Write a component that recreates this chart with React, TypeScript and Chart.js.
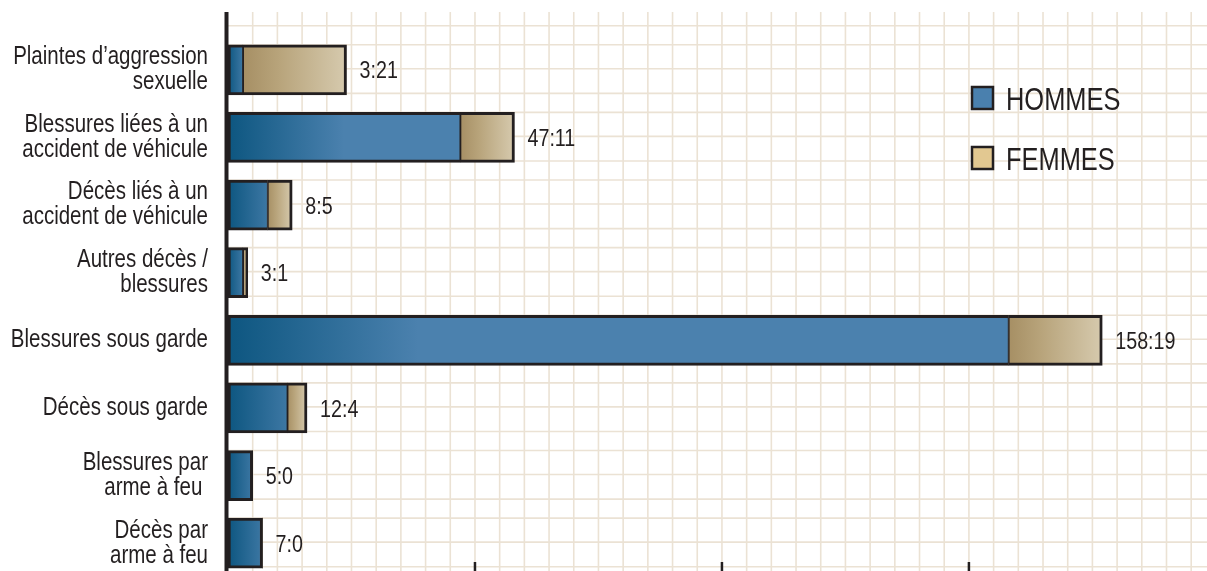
import { useEffect, useRef } from "react";
import { Chart, registerables } from "chart.js";

Chart.register(...registerables);

// Categories (multi-line labels), counts per sex, axis settings
const categories: (string | string[])[] = [
  ["Plaintes d’aggression", "sexuelle"],
  ["Blessures liées à un", "accident de véhicule"],
  ["Décès liés à un", "accident de véhicule"],
  ["Autres décès /", "blessures"],
  "Blessures sous garde",
  "Décès sous garde",
  ["Blessures par", "arme à feu "],
  ["Décès par", "arme à feu"],
];
const hommes = [3, 47, 8, 3, 158, 12, 5, 7];
const femmes = [21, 11, 5, 1, 19, 4, 0, 0];
const seriesNames = ["HOMMES", "FEMMES"];
const majorTicks = [50, 100, 150];
const gridStep = 5;
const xMax = 198.2;

const INK = "#231f20";
const GRID = "#ebe2d4";
const SANS = '"Liberation Sans", Arial, Helvetica, sans-serif';
const NARROW = 0.82; // horizontal squeeze giving a narrow grotesque look
const MEN_DARK = "#0d5680";
const MEN_LIGHT = "#4b81ae";
const MEN_SWATCH = "#4a80ae";
const WOMEN_SWATCH = "#e2c891";

// Text drawn with a horizontal squeeze
function narrowText(
  ctx: CanvasRenderingContext2D,
  text: string,
  x: number,
  y: number,
  size: number,
  align: CanvasTextAlign,
  baseline: CanvasTextBaseline
) {
  ctx.save();
  ctx.translate(x, y);
  ctx.scale(NARROW, 1);
  ctx.font = `${size}px ${SANS}`;
  ctx.textAlign = align;
  ctx.textBaseline = baseline;
  ctx.fillStyle = INK;
  ctx.fillText(text, 0, 0);
  ctx.restore();
}

function menFill(ctx: any) {
  const chart = ctx.chart;
  if (!chart.chartArea) return MEN_LIGHT;
  const x = chart.scales.x;
  const x0 = x.getPixelForValue(0);
  const x1 = x.getPixelForValue(hommes[ctx.dataIndex]);
  const w = Math.max(x1 - x0, 1);
  const span = w < 60 ? w * 1.3 : Math.min(w * 0.5, 190);
  const g = chart.ctx.createLinearGradient(x0, 0, x0 + span, 0);
  g.addColorStop(0, MEN_DARK);
  g.addColorStop(1, MEN_LIGHT);
  return g;
}

function womenFill(ctx: any) {
  const chart = ctx.chart;
  if (!chart.chartArea) return "#c0ad86";
  const x = chart.scales.x;
  const i = ctx.dataIndex;
  const x0 = x.getPixelForValue(hommes[i]);
  const x1 = x.getPixelForValue(hommes[i] + femmes[i]);
  const g = chart.ctx.createLinearGradient(x0, 0, Math.max(x1, x0 + 1), 0);
  g.addColorStop(0, "#a68f64");
  g.addColorStop(0.35, "#b8a47b");
  g.addColorStop(1, "#d6caae");
  return g;
}

// Paper grid behind the bars; axis line, tick marks, labels and legend on top
const decorPlugin = {
  id: "decor",
  beforeDatasetsDraw(chart: any) {
    const { ctx, chartArea, scales } = chart;
    const x = scales.x;
    const y = scales.y;
    const top = 12;
    const bottom = chart.height;
    const right = chart.width;
    ctx.save();
    ctx.strokeStyle = GRID;
    ctx.lineWidth = 1.6;
    for (let v = gridStep; ; v += gridStep) {
      const px = x.getPixelForValue(v);
      if (px > right) break;
      ctx.beginPath();
      ctx.moveTo(px, top);
      ctx.lineTo(px, bottom);
      ctx.stroke();
    }
    const band = y.getPixelForValue(1) - y.getPixelForValue(0);
    const offsets = [-0.37, -0.015, 0.348];
    for (let i = -1; i < categories.length + 1; i++) {
      const c = y.getPixelForValue(0) + i * band;
      for (const f of offsets) {
        const py = c + f * band;
        if (py < top || py > bottom) continue;
        ctx.beginPath();
        ctx.moveTo(chartArea.left, py);
        ctx.lineTo(right, py);
        ctx.stroke();
      }
    }
    ctx.restore();
  },
  afterDatasetsDraw(chart: any) {
    const { ctx, chartArea, scales } = chart;
    const x = scales.x;
    const y = scales.y;
    ctx.save();
    // axis line
    ctx.fillStyle = INK;
    ctx.fillRect(chartArea.left - 3.5, 12, 4, chart.height - 12);
    // major tick marks at the bottom
    ctx.strokeStyle = INK;
    ctx.lineWidth = 2.5;
    for (const v of majorTicks) {
      const px = x.getPixelForValue(v);
      ctx.beginPath();
      ctx.moveTo(px, 562);
      ctx.lineTo(px, chart.height);
      ctx.stroke();
    }
    ctx.restore();

    // category labels, right-aligned left of the axis
    const labelRight = chartArea.left - 20;
    const lineH = 25;
    categories.forEach((lab, i) => {
      const lines = Array.isArray(lab) ? lab : [lab];
      const c = y.getPixelForValue(i);
      const first = c - ((lines.length - 1) * lineH) / 2;
      lines.forEach((t, k) => {
        narrowText(ctx, t, labelRight, first + k * lineH, 25, "right", "middle");
      });
    });

    // value labels "hommes:femmes"
    for (let i = 0; i < categories.length; i++) {
      const px = x.getPixelForValue(hommes[i] + femmes[i]);
      const py = y.getPixelForValue(i);
      narrowText(ctx, `${hommes[i]}:${femmes[i]}`, px + 13, py + 2, 24, "left", "middle");
    }

    // legend
    const swatches = [MEN_SWATCH, WOMEN_SWATCH];
    for (let k = 0; k < seriesNames.length; k++) {
      const by = 87 + k * 60;
      ctx.save();
      ctx.fillStyle = swatches[k];
      ctx.fillRect(972, by, 21, 22);
      ctx.strokeStyle = INK;
      ctx.lineWidth = 2.5;
      ctx.strokeRect(972, by, 21, 22);
      ctx.restore();
      narrowText(ctx, seriesNames[k], 1006, by + 23, 31, "left", "alphabetic");
    }
  },
};

export default function App() {
  const canvasRef = useRef<HTMLCanvasElement | null>(null);

  useEffect(() => {
    if (!canvasRef.current) return;
    const chart = new Chart(canvasRef.current, {
      type: "bar",
      data: {
        labels: categories as any,
        datasets: [
          {
            label: seriesNames[0],
            data: hommes,
            backgroundColor: menFill as any,
            borderColor: INK,
            borderWidth: ((ctx: any) => ({
              top: 3,
              bottom: 3,
              left: 3,
              right: femmes[ctx.dataIndex] > 0 ? 1 : 3,
            })) as any,
            borderSkipped: false,
            barThickness: 50,
            stack: "s",
          },
          {
            label: seriesNames[1],
            data: femmes,
            backgroundColor: womenFill as any,
            borderColor: INK,
            borderWidth: ((ctx: any) =>
              femmes[ctx.dataIndex] > 0 ? { top: 3, bottom: 3, left: 1.5, right: 3 } : 0) as any,
            borderSkipped: false,
            barThickness: 50,
            stack: "s",
          },
        ],
      },
      options: {
        indexAxis: "y",
        animation: false,
        responsive: true,
        maintainAspectRatio: false,
        layout: { padding: { top: 36, bottom: 13, left: 0, right: 0 } },
        plugins: {
          legend: { display: false },
          tooltip: { enabled: false },
        },
        scales: {
          x: {
            display: false,
            stacked: true,
            min: 0,
            max: xMax,
          },
          y: {
            stacked: true,
            offset: true,
            grid: { display: false, drawTicks: false },
            border: { display: false },
            ticks: { display: false, padding: 0 },
            afterFit: (s: any) => {
              s.width = 228;
            },
          },
        },
      },
      plugins: [decorPlugin],
    });
    return () => chart.destroy();
  }, []);

  return (
    <div
      style={{
        position: "fixed",
        left: 0,
        top: 0,
        width: 1207,
        height: 571,
        overflow: "hidden",
        background: "#fff",
      }}
    >
      <div style={{ position: "relative", width: 1207, height: 590 }}>
        <canvas ref={canvasRef} />
      </div>
    </div>
  );
}
